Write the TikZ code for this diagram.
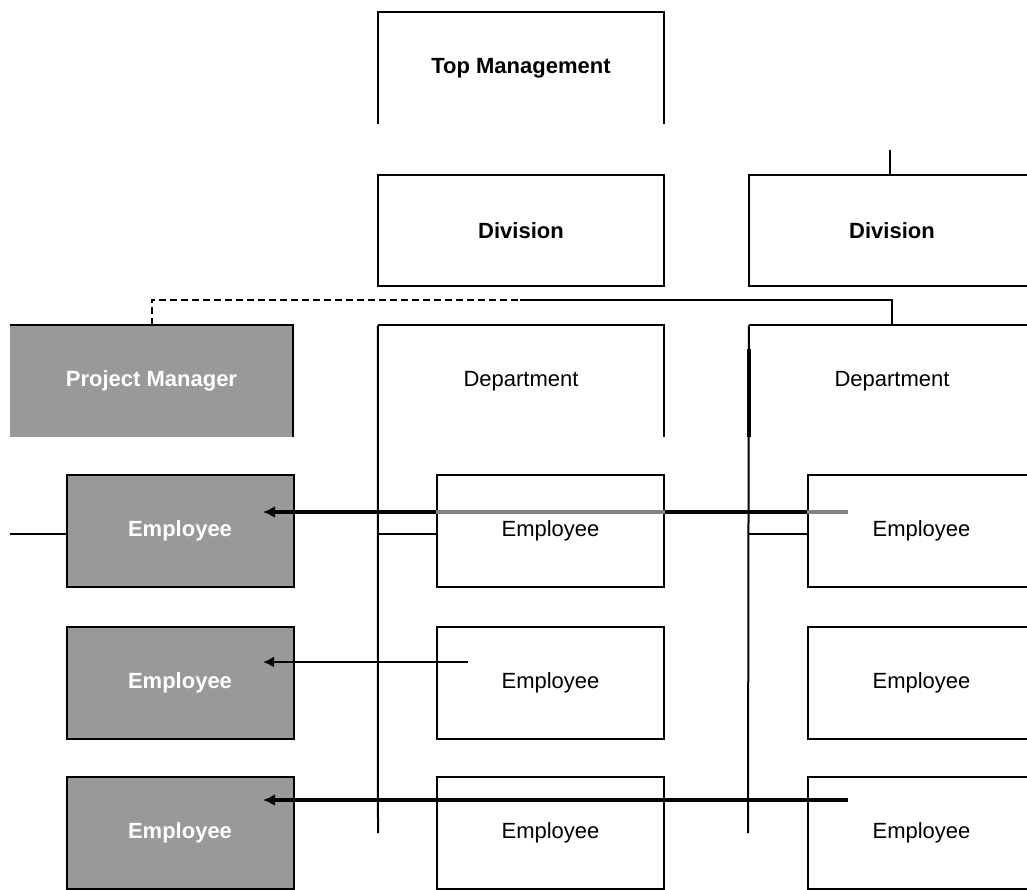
\documentclass[tikz,border=0pt]{standalone}
\usepackage{fontspec}
\setmainfont{Liberation Sans}
\usetikzlibrary{arrows.meta}
\definecolor{pmgray}{RGB}{153,153,153}
\definecolor{arrgray}{RGB}{130,130,130}

\begin{document}
\begin{tikzpicture}[x=1pt, y=-1pt, font=\fontsize{22}{26}\selectfont,
    unit/.style={rectangle, minimum width=286pt, minimum height=111pt, inner sep=0pt},
    emp/.style={rectangle, draw, line width=2pt, fill=white, minimum width=227pt, minimum height=112pt, inner sep=0pt},
    pemp/.style={emp, fill=pmgray, text=white, font=\fontsize{22}{26}\selectfont\bfseries},
    boxline/.style={line width=2pt},
    wire/.style={line width=2pt},
    fatarrow/.style={line width=4pt, -{Latex[length=12pt,width=12pt]}},
    thinarrow/.style={line width=2pt, -{Latex[length=11pt,width=11pt]}}]
    \useasboundingbox (0,0) rectangle (1027,889);
    % top levels
    \node[unit, minimum height=112pt] (tm) at (521,68) {\bfseries Top Management};
    \node[unit, draw, boxline] (div1) at (521,230.5) {\bfseries Division};
    \node[unit, draw, boxline] (div2) at (892,230.5) {\bfseries Division};
    \node[unit, fill=pmgray, text=white, minimum width=283pt] (pm) at (151.5,381) {\bfseries Project Manager};
    \node[unit] (dep1) at (521,381) {Department};
    \node[unit] (dep2) at (892,381) {Department};
    \draw[boxline] (tm.south west) -- (tm.north west) -- (tm.north east) -- (tm.south east);
    \draw[boxline] (pm.north west) -- (pm.north east) -- (pm.south east);
    \draw[boxline] (dep1.north west) -- (dep1.north east) -- (dep1.south east);
    \draw[boxline] (dep2.north east) -- (dep2.north west);
    % employees
    \foreach \r/\y in {1/531, 2/682.5, 3/832.5} {
        \node[pemp] (g\r) at (180,\y) {Employee};
        \node[emp] (m\r) at (550.5,\y) {Employee};
        \node[emp] (r\r) at (921.5,\y) {Employee};
    }
    % lines
    \coordinate (d2top) at (890,150);
    \coordinate (split) at (520,300);
    \coordinate (d1foot) at (378,833);
    \coordinate (d2foot) at (748,833);
    \coordinate (stub) at (10,534);
    \draw[wire] (d2top) -- (d2top |- div2.north);
    \draw[wire, dashed, dash pattern=on 7pt off 4pt] (pm.north) |- (split);
    \draw[wire] (split) -| (dep2.north);
    \draw[wire] (dep1.north west) -- (d1foot);
    \draw[wire] (dep2.north west) -- (d2foot);
    \draw[line width=3.5pt] ([yshift=-24pt]dep2.north west) -- (dep2.south west);
    \draw[wire] (stub) -- (stub -| g1.west);
    \draw[wire] (stub -| m1.west) -- (stub -| d1foot);
    \draw[wire] (stub -| r1.west) -- (stub -| d2foot);
    % arrows
    \coordinate (a1) at (848,512);
    \coordinate (a2) at (468,662);
    \coordinate (a3) at (848,800);
    \coordinate (tip) at (263,0);
    \draw[fatarrow] (a1) -- (a1 -| tip);
    \draw[line width=4pt, arrgray] (a1 -| m1.west) -- (a1 -| m1.east);
    \draw[line width=4pt, arrgray] (a1 -| r1.west) -- (a1);
    \draw[thinarrow] (a2) -- (a2 -| tip);
    \draw[fatarrow] (a3) -- (a3 -| tip);
\end{tikzpicture}
\end{document}
